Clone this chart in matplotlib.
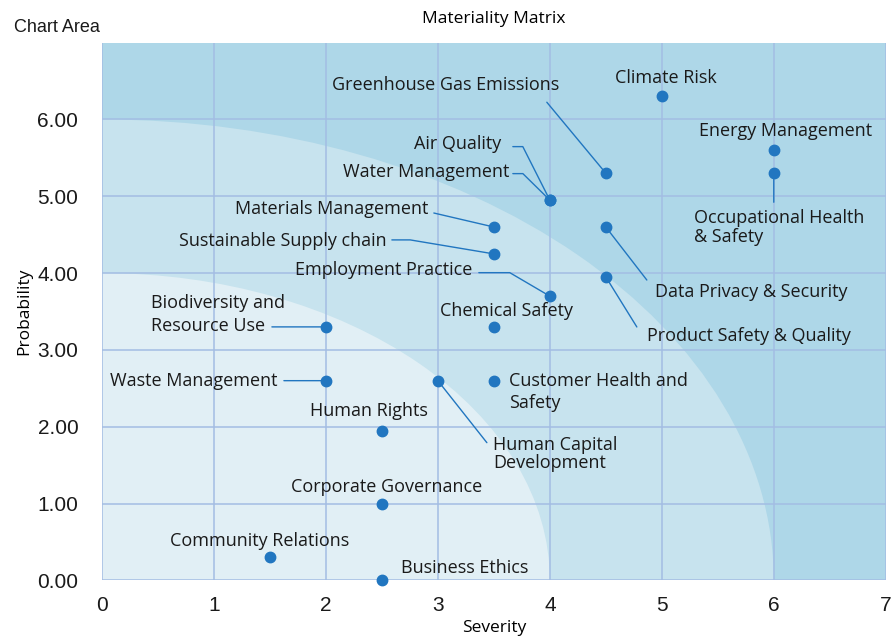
import math
import matplotlib
matplotlib.use("Agg")
import matplotlib.pyplot as plt
from matplotlib.patches import Ellipse

# topic names and their (severity, probability) scores
topics = ["Climate Risk", "Energy Management", "Occupational Health\n& Safety",
          "Greenhouse Gas Emissions", "Air Quality", "Water Management",
          "Materials Management", "Sustainable Supply chain", "Employment Practice",
          "Chemical Safety", "Biodiversity and\nResource Use", "Waste Management",
          "Human Capital\nDevelopment", "Customer Health and\nSafety",
          "Data Privacy & Security", "Product Safety & Quality", "Human Rights",
          "Corporate Governance", "Community Relations", "Business Ethics"]
severity = [5.0, 6.0, 6.0, 4.5, 4.0, 4.0, 3.5, 3.5, 4.0, 3.5,
            2.0, 2.0, 3.0, 3.5, 4.5, 4.5, 2.5, 2.5, 1.5, 2.5]
probability = [6.3, 5.6, 5.3, 5.3, 4.95, 4.95, 4.6, 4.25, 3.7, 3.3,
               3.3, 2.6, 2.6, 2.6, 4.6, 3.95, 1.95, 1.0, 0.3, 0.0]

x_ticks = [0, 1, 2, 3, 4, 5, 6, 7]
y_ticks = [0, 1, 2, 3, 4, 5, 6]
zone_radii = [6, 4]

# label placement in pixels relative to the point: (dx, dy, ha, linespacing)
label_pos = {
    "Climate Risk": (4, 18, "center", 1.0),
    "Energy Management": (12, 19, "center", 1.0),
    "Occupational Health\n& Safety": (-80, -54, "left", 1.08),
    "Greenhouse Gas Emissions": (-160, 88, "center", 1.0),
    "Air Quality": (-49, 56, "right", 1.0),
    "Water Management": (-40, 28, "right", 1.0),
    "Materials Management": (-65, 18, "right", 1.0),
    "Sustainable Supply chain": (-107, 13, "right", 1.0),
    "Employment Practice": (-77, 26, "right", 1.0),
    "Chemical Safety": (13, 16, "center", 1.0),
    "Biodiversity and\nResource Use": (-175, 12, "left", 1.35),
    "Waste Management": (-48, 0, "right", 1.0),
    "Human Capital\nDevelopment": (55, -73, "left", 1.0),
    "Customer Health and\nSafety": (15, -11, "left", 1.28),
    "Data Privacy & Security": (49, -65, "left", 1.0),
    "Product Safety & Quality": (41, -59, "left", 1.0),
    "Human Rights": (-13, 20, "center", 1.0),
    "Corporate Governance": (5, 17, "center", 1.0),
    "Community Relations": (-10, 16, "center", 1.0),
    "Business Ethics": (19, 12, "left", 1.0),
}
# leader lines in pixels relative to the point: start, and optional elbow
leaders = {
    "Occupational Health\n& Safety": [(0, -29)],
    "Greenhouse Gas Emissions": [(-59, 71)],
    "Air Quality": [(-37, 53.5), (-27, 53.5)],
    "Water Management": [(-37, 26.5), (-27, 26.5)],
    "Materials Management": [(-60, 14)],
    "Sustainable Supply chain": [(-102, 14), (-84, 14)],
    "Employment Practice": [(-71, 23.5), (-40, 23.5)],
    "Biodiversity and\nResource Use": [(-54, 0)],
    "Waste Management": [(-42, 0)],
    "Human Capital\nDevelopment": [(49, -62)],
    "Data Privacy & Security": [(41, -53)],
    "Product Safety & Quality": [(31, -50)],
}

dot_color = "#2176c0"
label_font = ["Open Sans", "DejaVu Sans"]
plain_font = ["Liberation Sans", "DejaVu Sans"]

fig = plt.figure(figsize=(8.92, 6.41), dpi=100)
ax = fig.add_axes([0.1143, 0.0945, 0.8787, 0.839])
ax.set_facecolor("#aed7e8")

zone_colors = ["#c7e3ee", "#e1eff5"]
for r, c in zip(zone_radii, zone_colors):
    ax.add_patch(Ellipse((0, 0), 2 * r, 2 * r, facecolor=c, edgecolor="none", zorder=0))

ax.set_xlim(0, 7)
ax.set_ylim(0, 7)
ax.set_xticks(x_ticks)
ax.set_yticks(y_ticks)
ax.set_yticklabels([f"{v:.2f}" for v in y_ticks])
ax.tick_params(length=0, labelsize=15, labelcolor="#1a1a1a")
ax.tick_params(axis="y", pad=17)
ax.tick_params(axis="x", pad=11)
for lbl in ax.get_xticklabels() + ax.get_yticklabels():
    lbl.set_family(plain_font)
ax.grid(True, color="#a3bde3", linewidth=1.1)
ax.set_axisbelow(True)
for s in ax.spines.values():
    s.set_visible(False)

ax.set_xlabel("Severity", fontsize=12.5, family=label_font, labelpad=4)
ax.set_ylabel("Probability", fontsize=12.5, family=label_font, labelpad=4)
ax.set_title("Materiality Matrix", fontsize=12.5, family=label_font, pad=14)
fig.text(0.016, 0.957, "Chart Area", fontsize=13, family=plain_font,
         va="center", ha="left", color="#1a1a1a")

ax.plot(severity, probability, "o", color=dot_color, markersize=7.5, zorder=5, clip_on=False)

for name, sx, py in zip(topics, severity, probability):
    if name in leaders:
        path = leaders[name]
        start = path[0]
        if len(path) > 1:
            ex, ey = path[1]
            angle_b = math.degrees(math.atan2(ey, ex))
            style = f"angle,angleA=0,angleB={angle_b:.1f},rad=0"
        else:
            style = "arc3,rad=0"
        ax.annotate("", xy=(sx, py), xytext=start, textcoords="offset pixels",
                    arrowprops=dict(arrowstyle="-", color=dot_color, lw=1.0,
                                    shrinkA=0, shrinkB=0, connectionstyle=style),
                    annotation_clip=False)
    dx, dy, ha, ls = label_pos[name]
    ax.annotate(name, xy=(sx, py), xytext=(dx, dy), textcoords="offset pixels",
                ha=ha, va="center", fontsize=13, family=label_font, color="#1a1a1a",
                linespacing=ls, zorder=6, annotation_clip=False)

fig.savefig("out.png", dpi=100)
